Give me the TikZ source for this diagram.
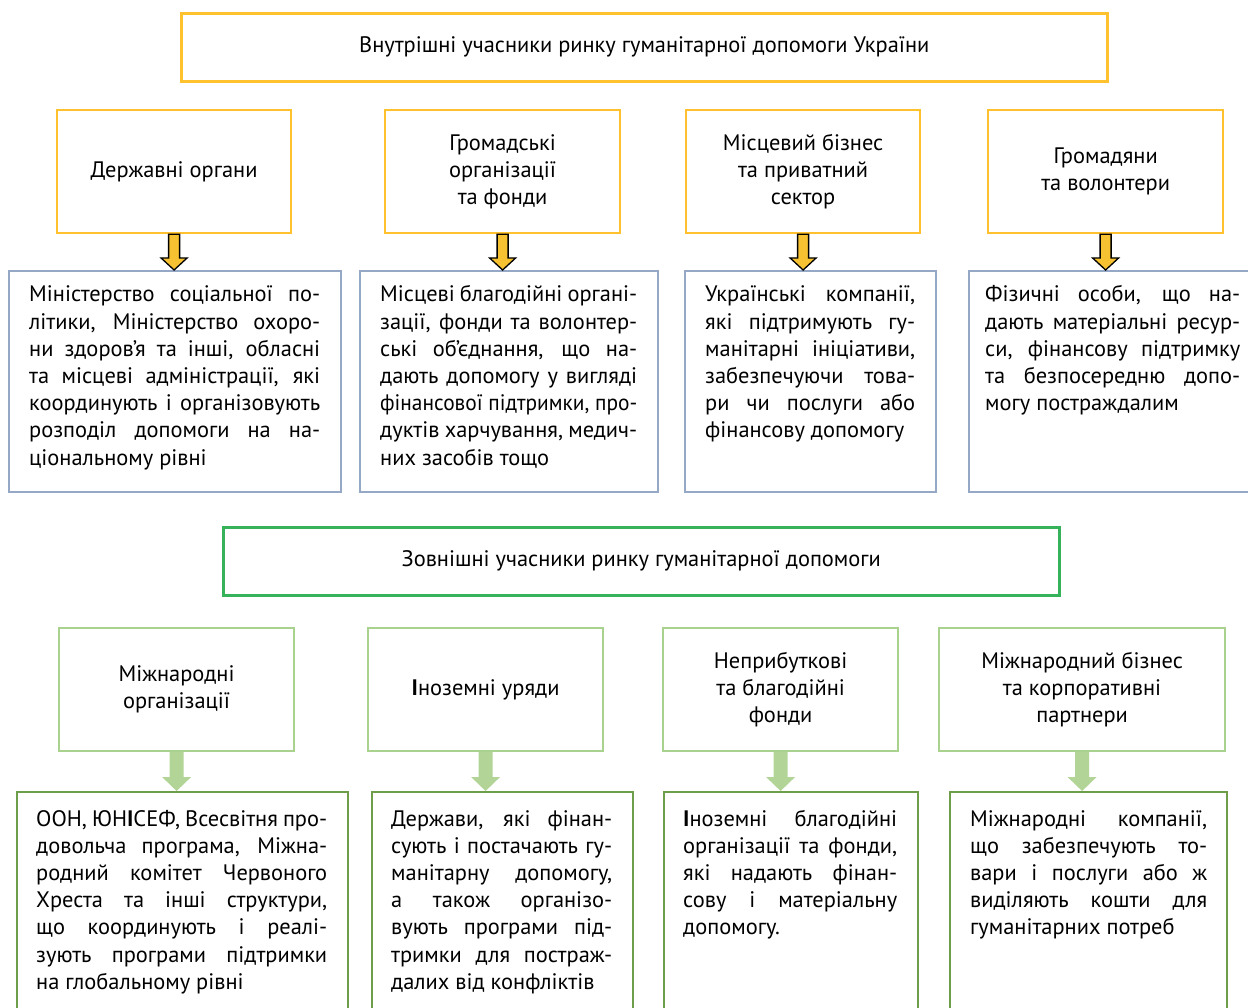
\documentclass[tikz,border=0pt]{standalone}
\usepackage{fontspec}
\usepackage{graphicx}
\setmainfont{PT Sans}
\usetikzlibrary{calc}

\definecolor{cYel}{HTML}{FFC12E}
\definecolor{cArrY}{HTML}{F6C232}
\definecolor{cBlu}{HTML}{95A8C6}
\definecolor{cGrn}{HTML}{36B35A}
\definecolor{cLGrn}{HTML}{A9D28E}
\definecolor{cDGrn}{HTML}{6E9E4A}
\definecolor{cArrG}{HTML}{B2D597}

% one justified line / a slightly condensed line / last line of a paragraph
\newcommand\jl[1]{\makebox[\linewidth][s]{#1}\par}
\newcommand\jlsq[1]{\resizebox{\linewidth}{\height}{#1}\par}
\newcommand\lastln[1]{#1\par}
% text block of given width
\newcommand\tblock[2]{\parbox[t]{#1}{\fontsize{22.4}{27.2}\selectfont #2}}

% block arrows from one box down to the next
\newcommand\yellowarrow[2]{%
  \path[draw=black,line width=1.3pt,fill=cArrY,line join=miter]
    let \p1=(#1.south), \p2=(#2.north) in
    (\x1-5.5pt,\y1) -- (\x1+5.5pt,\y1) -- (\x1+5.5pt,\y2+12pt) -- (\x1+13pt,\y2+12pt)
    -- (\x1,\y2) -- (\x1-13pt,\y2+12pt) -- (\x1-5.5pt,\y2+12pt) -- cycle;}
\newcommand\greenarrow[2]{%
  \path[fill=cArrG]
    let \p1=(#1.south), \p2=(#2.north) in
    (\x1-7pt,\y1) -- (\x1+7pt,\y1) -- (\x1+7pt,\y2+14pt) -- (\x1+14.5pt,\y2+14pt)
    -- (\x1,\y2) -- (\x1-14.5pt,\y2+14pt) -- (\x1-7pt,\y2+14pt) -- cycle;}

\tikzset{
  box/.style={rectangle,inner sep=0pt,anchor=north west,align=center,
    font=\fontsize{22.4}{27.2}\selectfont},
  hdrY/.style={box,draw=cYel,line width=2.6pt,font=\fontsize{22.4}{26}\selectfont},
  hdrG/.style={box,draw=cGrn,line width=2.6pt,font=\fontsize{22.4}{26}\selectfont},
  titY/.style={box,draw=cYel,line width=2.2pt},
  titG/.style={box,draw=cLGrn,line width=2.2pt},
  detB/.style={box,draw=cBlu,line width=2.2pt},
  detG/.style={box,draw=cDGrn,line width=2.2pt},
  txt/.style={inner sep=0pt,anchor=base west},
}

\begin{document}
\begin{tikzpicture}[x=1pt,y=-1pt]
\useasboundingbox (0,0) rectangle (1248,1008);
\clip (0,0) rectangle (1248,1008);
\fill[white] (0,0) rectangle (1248,1008);

% ---------- internal participants ----------
\node[hdrY,minimum width=926,minimum height=68] (hin) at (180,12)
  {Внутрішні учасники ринку гуманітарної допомоги України};

\node[titY,minimum width=234,minimum height=123] (t1) at (56,109) {Державні органи};
\node[titY,minimum width=235,minimum height=123] (t2) at (384,109) {Громадські\\організації\\та фонди};
\node[titY,minimum width=234,minimum height=123] (t3) at (685,109) {Місцевий бізнес\\та приватний\\сектор};
\node[titY,minimum width=235,minimum height=123] (t4) at (987,109) {Громадяни\\та волонтери};

\node[detB,minimum width=332,minimum height=221] (d1) at (8,270) {};
\node[detB,minimum width=298,minimum height=221] (d2) at (359,270) {};
\node[detB,minimum width=251,minimum height=221] (d3) at (684,270) {};
\node[detB,minimum width=290,minimum height=221] (d4) at (968,270) {};

\node[txt] (d1t) at ([xshift=21pt,yshift=-32pt]d1.north west) {\tblock{291pt}{%
  \jl{Міністерство соціальної по-}
  \jl{літики, Міністерство охоро-}
  \jl{ни здоров’я та інші, обласні}
  \jl{та місцеві адміністрації, які}
  \jl{координують і організовують}
  \jl{розподіл допомоги на на-}
  \lastln{ціональному рівні}}};
\node[txt] (d2t) at ([xshift=21pt,yshift=-32pt]d2.north west) {\tblock{257pt}{%
  \jl{Місцеві благодійні органі-}
  \jl{зації, фонди та волонтер-}
  \jl{ські об’єднання, що на-}
  \jl{дають допомогу у вигляді}
  \jlsq{фінансової підтримки, про-}
  \jl{дуктів харчування, медич-}
  \lastln{них засобів тощо}}};
\node[txt] (d3t) at ([xshift=21pt,yshift=-32pt]d3.north west) {\tblock{210pt}{%
  \jl{Українські компанії,}
  \jl{які підтримують гу-}
  \jl{манітарні ініціативи,}
  \jl{забезпечуючи това-}
  \jl{ри чи послуги або}
  \lastln{фінансову допомогу}}};
\node[txt] (d4t) at ([xshift=17pt,yshift=-32pt]d4.north west) {\tblock{255pt}{%
  \jl{Фізичні особи, що на-}
  \jl{дають матеріальні ресур-}
  \jl{си, фінансову підтримку}
  \jl{та безпосередню допо-}
  \lastln{могу постраждалим}}};

\yellowarrow{t1}{d1}
\yellowarrow{t2}{d2}
\yellowarrow{t3}{d3}
\yellowarrow{t4}{d4}

% ---------- external participants ----------
\node[hdrG,minimum width=836,minimum height=68] (hex) at (222,526)
  {Зовнішні учасники ринку гуманітарної допомоги};

\node[titG,minimum width=235,minimum height=123] (g1) at (58,627) {Міжнародні\\організації};
\node[titG,minimum width=235,minimum height=123] (g2) at (367,627) {{\bfseries І}ноземні уряди};
\node[titG,minimum width=235,minimum height=123] (g3) at (662,627) {Неприбуткові\\та благодійні\\фонди};
\node[titG,minimum width=286,minimum height=123] (g4) at (938,627) {Міжнародний бізнес\\та корпоративні\\партнери};

\node[detG,minimum width=331,minimum height=240] (e1) at (16,791) {};
\node[detG,minimum width=261,minimum height=240] (e2) at (371,791) {};
\node[detG,minimum width=254,minimum height=240] (e3) at (663,791) {};
\node[detG,minimum width=277,minimum height=240] (e4) at (949,791) {};

\node[txt] (e1t) at ([xshift=20pt,yshift=-35pt]e1.north west) {\tblock{291pt}{%
  \jl{ООН, ЮН{\bfseries І}СЕФ, Всесвітня про-}
  \jl{довольча програма, Міжна-}
  \jl{родний комітет Червоного}
  \jl{Хреста та інші структури,}
  \jl{що координують і реалі-}
  \jl{зують програми підтримки}
  \lastln{на глобальному рівні}}};
\node[txt] (e2t) at ([xshift=20pt,yshift=-35pt]e2.north west) {\tblock{221pt}{%
  \jl{Держави, які фінан-}
  \jl{сують і постачають гу-}
  \jl{манітарну допомогу,}
  \jl{а також організо-}
  \jl{вують програми під-}
  \jl{тримки для постраж-}
  \lastln{далих від конфліктів}}};
\node[txt] (e3t) at ([xshift=20pt,yshift=-35pt]e3.north west) {\tblock{214pt}{%
  \jl{{\bfseries І}ноземні благодійні}
  \jl{організації та фонди,}
  \jl{які надають фінан-}
  \jl{сову і матеріальну}
  \lastln{допомогу.}}};
\node[txt] (e4t) at ([xshift=21pt,yshift=-35pt]e4.north west) {\tblock{237pt}{%
  \jl{Міжнародні компанії,}
  \jl{що забезпечують то-}
  \jl{вари і послуги або ж}
  \jl{виділяють кошти для}
  \lastln{гуманітарних потреб}}};

\greenarrow{g1}{e1}
\greenarrow{g2}{e2}
\greenarrow{g3}{e3}
\greenarrow{g4}{e4}
\end{tikzpicture}
\end{document}
